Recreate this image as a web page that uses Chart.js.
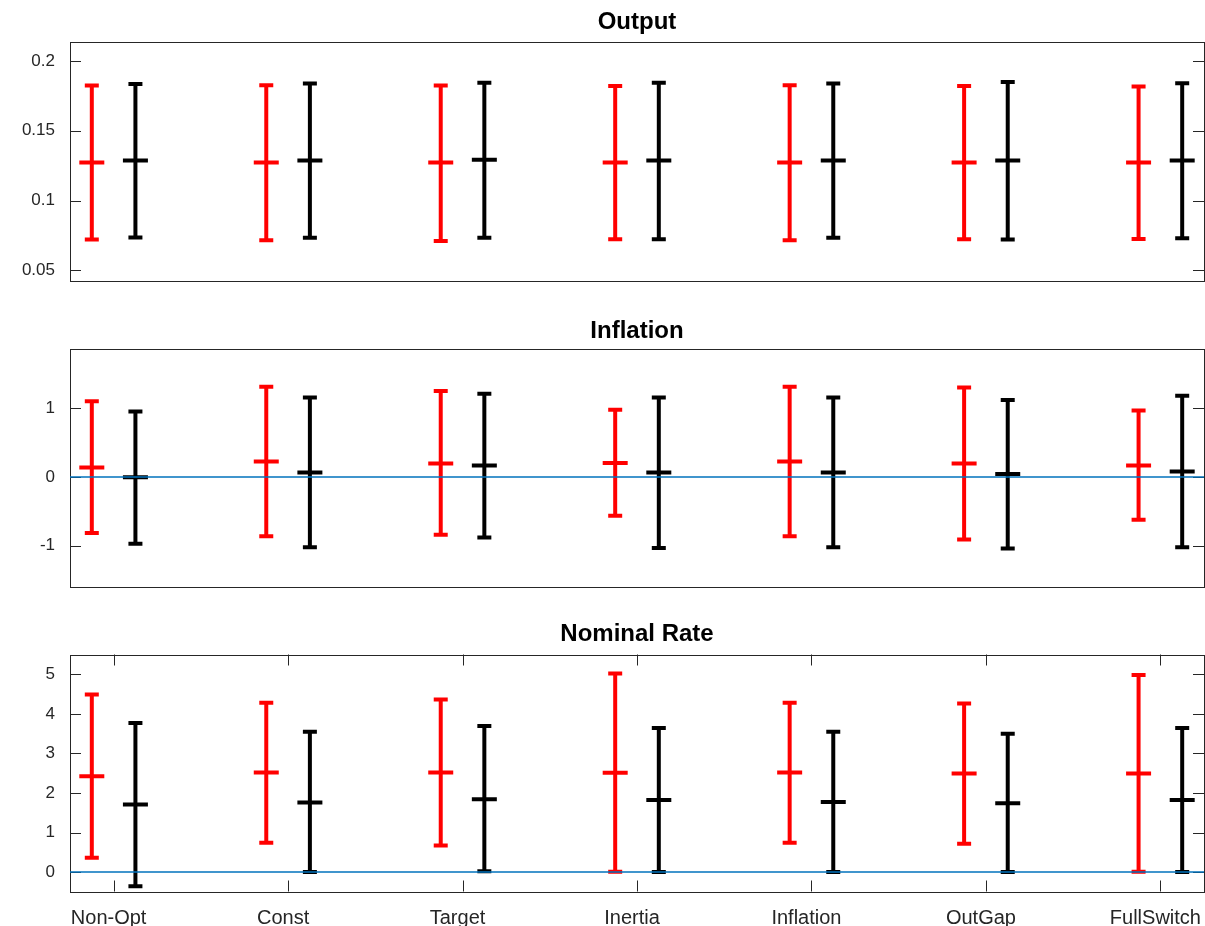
<!DOCTYPE html>
<html lang="en">
<head>
<meta charset="UTF-8">
<title>Output / Inflation / Nominal Rate</title>
<style>
  html, body { margin: 0; padding: 0; background: #ffffff; overflow: hidden; }
  canvas { position: absolute; left: 0; }
</style>
</head>
<body>
<canvas id="outputChart" width="1215" height="300" style="top:0;"></canvas>
<canvas id="inflationChart" width="1215" height="300" style="top:300px;"></canvas>
<canvas id="rateChart" width="1215" height="326" style="top:600px;"></canvas>

<script src="https://cdn.jsdelivr.net/npm/chart.js"></script>
<script>
const categories = ['Non-Opt', 'Const', 'Target', 'Inertia', 'Inflation', 'OutGap', 'FullSwitch'];

// Output
const outputRedHi   = [0.1824, 0.1826, 0.1824, 0.1821, 0.1826, 0.1821, 0.1817];
const outputRedMid  = [0.1273, 0.1273, 0.1273, 0.1273, 0.1273, 0.1273, 0.1273];
const outputRedLo   = [0.0721, 0.0717, 0.0710, 0.0724, 0.0717, 0.0724, 0.0726];
const outputBlackHi  = [0.1836, 0.1838, 0.1845, 0.1845, 0.1838, 0.1850, 0.1840];
const outputBlackMid = [0.1288, 0.1288, 0.1292, 0.1288, 0.1288, 0.1288, 0.1288];
const outputBlackLo  = [0.0736, 0.0734, 0.0734, 0.0724, 0.0734, 0.0721, 0.0731];
const outputTicks = [0.05, 0.1, 0.15, 0.2];

// Inflation
const inflRedHi   = [1.100, 1.311, 1.248, 0.976, 1.311, 1.301, 0.966];
const inflRedMid  = [0.136, 0.223, 0.194, 0.204, 0.223, 0.194, 0.165];
const inflRedLo   = [-0.816, -0.864, -0.840, -0.563, -0.864, -0.908, -0.621];
const inflBlackHi  = [0.951, 1.155, 1.209, 1.155, 1.155, 1.117, 1.180];
const inflBlackMid = [-0.005, 0.063, 0.165, 0.063, 0.063, 0.044, 0.078];
const inflBlackLo  = [-0.971, -1.024, -0.879, -1.034, -1.024, -1.039, -1.024];
const inflTicks = [-1, 0, 1];

// Nominal rate
const rateRedHi   = [4.49, 4.28, 4.36, 5.02, 4.28, 4.26, 4.98];
const rateRedMid  = [2.42, 2.52, 2.52, 2.51, 2.52, 2.49, 2.49];
const rateRedLo   = [0.36, 0.74, 0.67, 0.01, 0.74, 0.72, 0.01];
const rateBlackHi  = [3.77, 3.55, 3.69, 3.64, 3.55, 3.50, 3.64];
const rateBlackMid = [1.71, 1.76, 1.84, 1.82, 1.77, 1.74, 1.82];
const rateBlackLo  = [-0.36, 0.00, 0.02, 0.00, 0.00, 0.00, 0.00];
const rateTicks = [0, 1, 2, 3, 4, 5];

const zeroLine = [0];

const X_MIN = 0.75, X_MAX = 7.25;
const SHIFT = 0.125;
const FONT = "'Liberation Sans', Arial, sans-serif";
const AXIS_COLOR = '#262626';

// lo, mid, hi then a null point so each bar is its own segment
function errorBars(lo, mid, hi, shift) {
  const pts = [];
  for (let i = 0; i < lo.length; i++) {
    const x = i + 1 + shift;
    pts.push({ x: x, y: lo[i], kind: 'cap' });
    pts.push({ x: x, y: mid[i], kind: 'mid' });
    pts.push({ x: x, y: hi[i], kind: 'cap' });
    pts.push({ x: x, y: null });
  }
  return pts;
}

function barDataset(data, color) {
  return {
    type: 'line',
    data: data,
    borderColor: color,
    borderWidth: 4,
    spanGaps: false,
    pointStyle: 'line',
    pointBorderColor: color,
    pointBorderWidth: 4,
    pointRadius: ctx => (ctx.raw && ctx.raw.kind === 'mid') ? 12.5 : 7,
    order: 2
  };
}

// MATLAB-ish box with inward ticks
const matlabAxes = {
  id: 'matlabAxes',
  beforeDatasetsDraw(chart, args, opts) {
    const { ctx, chartArea: a, scales } = chart;
    ctx.save();
    ctx.strokeStyle = AXIS_COLOR;
    ctx.lineWidth = 1;
    ctx.strokeRect(Math.round(a.left) + 0.5, Math.round(a.top) + 0.5,
                   Math.round(a.right - a.left), Math.round(a.bottom - a.top));
    ctx.beginPath();
    scales.y.ticks.forEach(t => {
      const y = Math.round(scales.y.getPixelForValue(t.value)) + 0.5;
      ctx.moveTo(a.left, y); ctx.lineTo(a.left + 11, y);
      ctx.moveTo(a.right, y); ctx.lineTo(a.right - 11, y);
    });
    if (opts.xTicks) {
      scales.x.ticks.forEach(t => {
        const x = Math.round(scales.x.getPixelForValue(t.value)) + 0.5;
        ctx.moveTo(x, a.top); ctx.lineTo(x, a.top + 11);
        ctx.moveTo(x, a.bottom); ctx.lineTo(x, a.bottom - 11);
      });
    }
    ctx.stroke();
    ctx.restore();
  }
};

function noScalePadding(s) {
  s.paddingLeft = 0; s.paddingRight = 0;
  s.paddingTop = 0; s.paddingBottom = 0;
}

function makePanel(id, cfg) {
  const datasets = [
    barDataset(errorBars(cfg.redLo, cfg.redMid, cfg.redHi, -SHIFT), '#ff0000'),
    barDataset(errorBars(cfg.blackLo, cfg.blackMid, cfg.blackHi, SHIFT), '#000000')
  ];
  if (cfg.zero) {
    datasets.unshift({
      type: 'line',
      data: [{ x: X_MIN, y: zeroLine[0] }, { x: X_MAX, y: zeroLine[0] }],
      borderColor: '#0072bd',
      borderWidth: 1.5,
      pointRadius: 0,
      order: 1
    });
  }
  return new Chart(document.getElementById(id), {
    type: 'line',
    data: { datasets: datasets },
    plugins: [matlabAxes],
    options: {
      responsive: false,
      animation: false,
      events: [],
      layout: { padding: { left: 0, right: 7, top: 0, bottom: cfg.bottomPad } },
      plugins: {
        legend: { display: false },
        tooltip: { enabled: false },
        matlabAxes: { xTicks: cfg.showX },
        title: {
          display: true,
          text: cfg.title,
          fullSize: false,
          color: '#000000',
          font: { family: FONT, size: 24, weight: 'bold' },
          padding: { top: cfg.titleTop, bottom: cfg.titleBottom }
        }
      },
      scales: {
        x: {
          type: 'linear',
          min: X_MIN,
          max: X_MAX,
          display: cfg.showX,
          grid: { display: false, drawTicks: false },
          border: { display: false },
          afterBuildTicks: s => { s.ticks = categories.map((c, i) => ({ value: i + 1 })); },
          afterFit: s => {
            if (cfg.showX) s.height = 34.5;
            noScalePadding(s);
          },
          ticks: {
            autoSkip: false,
            maxRotation: 0,
            padding: 15,
            labelOffset: -5,
            color: AXIS_COLOR,
            font: { family: FONT, size: 20 },
            callback: v => categories[Math.round(v) - 1]
          }
        },
        y: {
          type: 'linear',
          min: cfg.yMin,
          max: cfg.yMax,
          grid: { display: false, drawTicks: false },
          border: { display: false },
          afterBuildTicks: s => { s.ticks = cfg.ticks.map(v => ({ value: v })); },
          afterFit: s => {
            s.width = 70;
            noScalePadding(s);
          },
          ticks: {
            padding: 15,
            color: AXIS_COLOR,
            font: { family: FONT, size: 17 },
            callback: v => String(v)
          }
        }
      }
    }
  });
}

makePanel('outputChart', {
  title: 'Output', titleTop: 7.6, titleBottom: 5.6, bottomPad: 19.5,
  yMin: 0.0428, yMax: 0.2136, ticks: outputTicks, showX: false, zero: false,
  redLo: outputRedLo, redMid: outputRedMid, redHi: outputRedHi,
  blackLo: outputBlackLo, blackMid: outputBlackMid, blackHi: outputBlackHi
});

makePanel('inflationChart', {
  title: 'Inflation', titleTop: 16.6, titleBottom: 3.6, bottomPad: 13.5,
  yMin: -1.593, yMax: 1.86, ticks: inflTicks, showX: false, zero: true,
  redLo: inflRedLo, redMid: inflRedMid, redHi: inflRedHi,
  blackLo: inflBlackLo, blackMid: inflBlackMid, blackHi: inflBlackHi
});

makePanel('rateChart', {
  title: 'Nominal Rate', titleTop: 19.6, titleBottom: 6.1, bottomPad: 0,
  yMin: -0.49, yMax: 5.5, ticks: rateTicks, showX: true, zero: true,
  redLo: rateRedLo, redMid: rateRedMid, redHi: rateRedHi,
  blackLo: rateBlackLo, blackMid: rateBlackMid, blackHi: rateBlackHi
});
</script>
</body>
</html>
